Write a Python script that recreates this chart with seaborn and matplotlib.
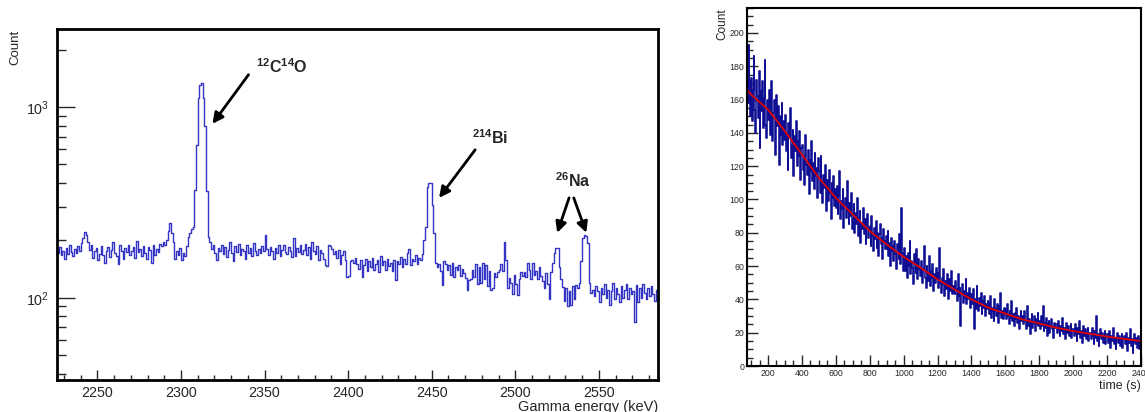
import numpy as np
import pandas as pd
import matplotlib
matplotlib.use("Agg")
import matplotlib.pyplot as plt
import seaborn as sns
from matplotlib.ticker import MultipleLocator, LogLocator, NullFormatter

sns.set_style("white")
plt.rcParams["font.family"] = ["Liberation Sans", "DejaVu Sans"]
plt.rcParams["mathtext.fontset"] = "custom"
plt.rcParams["mathtext.rm"] = "Liberation Sans"
plt.rcParams["mathtext.it"] = "Liberation Sans:italic"
plt.rcParams["mathtext.bf"] = "Liberation Sans:bold"

# gamma spectrum, 1 keV bins from 2225 keV
spec_start = 2225
spec_counts = [
    178, 172, 185, 168, 176, 160, 182, 170, 188, 174, 165, 180, 171, 186, 176, 194, 205, 222, 214, 196,
    178, 190, 162, 175, 183, 158, 170, 187, 168, 152, 176, 185, 163, 178, 197, 172, 166, 150, 188, 175,
    160, 182, 173, 190, 168, 176, 185, 162, 198, 174, 180, 166, 186, 171, 160, 184, 177, 152, 190, 168,
    181, 174, 192, 186, 196, 190, 200, 225, 248, 218, 197, 160, 175, 168, 182, 158, 172, 165, 186, 209,
    218, 228, 234, 367, 629, 1114, 1300, 1345, 1114, 798, 365, 209, 195, 180, 188, 172, 158, 182, 176, 190,
    170, 185, 164, 178, 196, 172, 155, 186, 174, 192, 168, 180, 176, 160, 188, 171, 183, 166, 194, 175,
    168, 180, 172, 186, 176, 213, 180, 168, 184, 175, 160, 182, 171, 188, 166, 178, 190, 174, 169, 185,
    176, 163, 205, 165, 182, 174, 188, 170, 178, 192, 168, 184, 160, 195, 176, 170, 186, 158, 178, 172,
    160, 148, 146, 189, 186, 180, 170, 175, 162, 178, 150, 168, 176, 158, 129, 130, 155, 158, 152, 162,
    150, 142, 158, 129, 148, 160, 138, 155, 145, 162, 140, 150, 158, 136, 165, 148, 155, 140, 160, 146,
    152, 138, 158, 124, 156, 150, 163, 145, 160, 150, 172, 180, 148, 160, 155, 168, 150, 162, 158, 170,
    200, 236, 380, 400, 398, 307, 218, 152, 145, 150, 138, 117, 155, 150, 140, 148, 132, 152, 128, 145,
    140, 148, 130, 142, 135, 127, 110, 124, 125, 140, 128, 150, 118, 145, 120, 152, 125, 148, 115, 138,
    110, 112, 135, 128, 137, 140, 150, 138, 197, 158, 112, 127, 120, 105, 132, 118, 103, 125, 137, 130,
    137, 128, 152, 140, 126, 152, 132, 138, 125, 145, 130, 122, 112, 135, 118, 99, 137, 152, 172, 182,
    182, 145, 125, 114, 96, 112, 90, 108, 92, 115, 98, 117, 112, 120, 155, 206, 213, 210, 194, 119,
    106, 110, 102, 115, 108, 95, 112, 104, 118, 100, 110, 92, 108, 120, 98, 112, 104, 95, 115, 100,
    110, 118, 98, 112, 104, 108, 75, 116, 95, 112, 100, 118, 106, 98, 112, 102, 115, 104, 96, 110,
]

# decay curve, 5 s bins from 75 s
decay_start = 75
decay_counts = [
    182, 158, 193, 171, 150,
    173, 147, 166, 186, 154, 140, 172, 162, 149, 177, 131, 165, 153, 171, 143, 161, 184, 145, 137, 160,
    148, 166, 139, 158, 171, 135, 152, 160, 127, 149, 163, 144, 156, 121, 150, 139, 158, 133, 147, 136,
    151, 129, 140, 118, 146, 137, 155, 125, 133, 142, 114, 138, 129, 147, 120, 135, 126, 141, 112, 131,
    133, 118, 126, 109, 139, 121, 115, 130, 103, 124, 117, 135, 111, 122, 106, 128, 114, 119, 101, 125,
    117, 104, 126, 110, 98, 115, 107, 121, 93, 109, 112, 99, 118, 104, 88, 110, 101, 114, 96, 106,
    95, 108, 91, 102, 117, 88, 99, 94, 106, 83, 97, 101, 89, 111, 93, 85, 98, 90, 104, 82,
    88, 97, 80, 92, 85, 101, 78, 89, 93, 74, 86, 82, 95, 79, 88, 73, 84, 91, 77, 83,
    84, 72, 90, 78, 69, 83, 76, 87, 71, 80, 66, 79, 85, 73, 77, 64, 82, 75, 70, 78,
    70, 81, 66, 74, 60, 77, 69, 72, 63, 75, 67, 58, 73, 70, 64, 79, 61, 95, 68, 57,
    62, 71, 57, 66, 53, 68, 60, 75, 55, 63, 59, 49, 67, 61, 56, 70, 52, 64, 58, 54,
    55, 63, 50, 58, 72, 53, 47, 60, 56, 51, 66, 48, 57, 53, 61, 45, 55, 50, 59, 52,
    56, 47, 71, 50, 44, 53, 49, 58, 42, 51, 46, 55, 40, 49, 52, 45, 57, 43, 48, 44,
    43, 51, 46, 39, 55, 42, 47, 24, 44, 49, 38, 45, 41, 52, 37, 44, 40, 47, 35, 42,
    43, 37, 46, 22, 40, 34, 48, 38, 33, 41, 36, 44, 31, 39, 35, 42, 30, 37, 34, 39,
    38, 31, 42, 29, 35, 33, 27, 40, 34, 30, 37, 26, 36, 32, 44, 29, 33, 28, 35, 31,
    34, 28, 37, 30, 25, 33, 29, 39, 27, 31, 24, 32, 28, 35, 26, 30, 22, 29, 33, 27,
    30, 25, 33, 27, 22, 29, 36, 24, 28, 19, 27, 31, 23, 26, 30, 21, 28, 25, 32, 24,
    27, 22, 30, 24, 36, 21, 26, 23, 29, 18, 25, 27, 20, 24, 28, 22, 17, 26, 23, 25,
    25, 20, 27, 22, 18, 24, 21, 29, 19, 23, 16, 22, 26, 20, 24, 18, 21, 25, 17, 22,
    22, 18, 25, 20, 15, 23, 19, 27, 17, 21, 14, 20, 24, 18, 22, 16, 19, 23, 15, 20,
    20, 16, 23, 18, 13, 21, 17, 30, 15, 19, 12, 18, 22, 16, 20, 14, 17, 21, 13, 19,
    19, 14, 21, 16, 11, 18, 15, 23, 13, 17, 10, 16, 20, 14, 18, 12, 16, 19, 11, 17,
    18, 13, 20, 15, 9, 17, 14, 22, 12, 16, 8, 15, 19, 13, 17, 11, 15, 18, 10, 16,
]

# exponential fit
fit_time = [76, 100, 200, 300, 400, 500, 600, 700, 800, 900, 1000, 1100, 1200,
            1300, 1400, 1500, 1600, 1700, 1800, 1900, 2000, 2100, 2200, 2300, 2400]
fit_count = [166, 163, 154, 141, 127, 113, 101, 91, 81, 73, 65.5, 59, 52,
             46, 40, 35, 31.5, 28, 25.5, 23, 21, 19.3, 17.7, 16.3, 15]

W, H = 1145, 412
fig = plt.figure(figsize=(W / 100, H / 100), dpi=100)

# ---- left: gamma spectrum ----
ax1 = fig.add_axes([57 / W, 1 - 380 / H, 601 / W, 351 / H])
spec_df = pd.DataFrame({"energy": spec_start + 0.5 + np.arange(len(spec_counts)),
                        "count": spec_counts})
sns.histplot(data=spec_df, x="energy", weights="count", binwidth=1,
             binrange=(spec_start, spec_start + len(spec_counts)),
             element="step", fill=False, color="#3333c4", linewidth=1.0, ax=ax1)
ax1.set_yscale("log")
ax1.set_xlim(2225.8, 2585.4)
ax1.set_ylim(37, 2570)
ax1.set_xlabel("")
ax1.set_ylabel("")
ax1.xaxis.set_major_locator(MultipleLocator(50))
ax1.xaxis.set_minor_locator(MultipleLocator(10))
ax1.yaxis.set_major_locator(LogLocator(base=10))
ax1.yaxis.set_minor_locator(LogLocator(base=10, subs=np.arange(2, 10)))
ax1.yaxis.set_minor_formatter(NullFormatter())
ax1.tick_params(axis="x", which="major", direction="in", length=7.2, width=1, labelsize=10.3, pad=4)
ax1.tick_params(axis="x", which="minor", direction="in", length=3.6, width=1)
ax1.tick_params(axis="y", which="major", direction="in", length=13, width=1, labelsize=10.3, pad=6)
ax1.tick_params(axis="y", which="minor", direction="in", length=6.5, width=1)
ax1.tick_params(which="both", bottom=True, left=True, top=False, right=False)
for s in ax1.spines.values():
    s.set_linewidth(2.0)
    s.set_color("black")

arrow = dict(arrowstyle="-|>", color="black", lw=2, mutation_scale=16, shrinkA=0, shrinkB=0)
ax1.annotate("", xy=(2318.8, 817), xytext=(2340.4, 1479), arrowprops=arrow)
ax1.text(2360, 1629, r"$^{\mathbf{12}}\mathbf{C}^{\mathbf{14}}\mathbf{O}$", fontsize=11.5,
         ha="center", va="center")
ax1.annotate("", xy=(2454.4, 334), xytext=(2476, 597), arrowprops=arrow)
ax1.text(2485, 690, r"$^{\mathbf{214}}\mathbf{Bi}$", fontsize=11.5, ha="center", va="center")
ax1.annotate("", xy=(2525.1, 219), xytext=(2532.2, 334), arrowprops=arrow)
ax1.annotate("", xy=(2542.5, 219), xytext=(2535, 334), arrowprops=arrow)
ax1.text(2534.5, 410, r"$^{\mathbf{26}}\mathbf{Na}$", fontsize=11.5, ha="center", va="center")

fig.text(15.7 / W, 1 - 30 / H, "Count", rotation=90, ha="center", va="top", fontsize=9.5)
fig.text(658 / W, 1 - 407 / H, "Gamma energy (keV)", ha="right", va="center", fontsize=10.5)

# ---- right: decay curve ----
ax2 = fig.add_axes([747 / W, 1 - 366 / H, 394 / W, 358 / H])
decay_df = pd.DataFrame({"time": decay_start + 2.5 + 5 * np.arange(len(decay_counts)),
                         "count": decay_counts})
sns.histplot(data=decay_df, x="time", weights="count", binwidth=5,
             binrange=(decay_start, decay_start + 5 * len(decay_counts)),
             element="step", fill=False, color="#0f0f94", linewidth=1.15, ax=ax2)
sns.lineplot(x=fit_time, y=fit_count, color="#e00000", linewidth=1.3, ax=ax2)
ax2.set_xlim(76, 2400)
ax2.set_ylim(0, 215)
ax2.set_xlabel("")
ax2.set_ylabel("")
ax2.xaxis.set_major_locator(MultipleLocator(200))
ax2.xaxis.set_minor_locator(MultipleLocator(50))
ax2.yaxis.set_major_locator(MultipleLocator(20))
ax2.yaxis.set_minor_locator(MultipleLocator(5))
ax2.tick_params(which="major", direction="in", length=8, width=1, labelsize=6.3, pad=2)
ax2.tick_params(which="minor", direction="in", length=4.3, width=1)
ax2.tick_params(which="both", bottom=True, left=True, top=False, right=False)
for s in ax2.spines.values():
    s.set_linewidth(1.5)
    s.set_color("black")

fig.text(722 / W, 1 - 8 / H, "Count", rotation=90, ha="center", va="top", fontsize=8.5)
fig.text(1141 / W, 1 - 386.5 / H, "time (s)", ha="right", va="center", fontsize=9)

fig.savefig("out.png", dpi=100)
